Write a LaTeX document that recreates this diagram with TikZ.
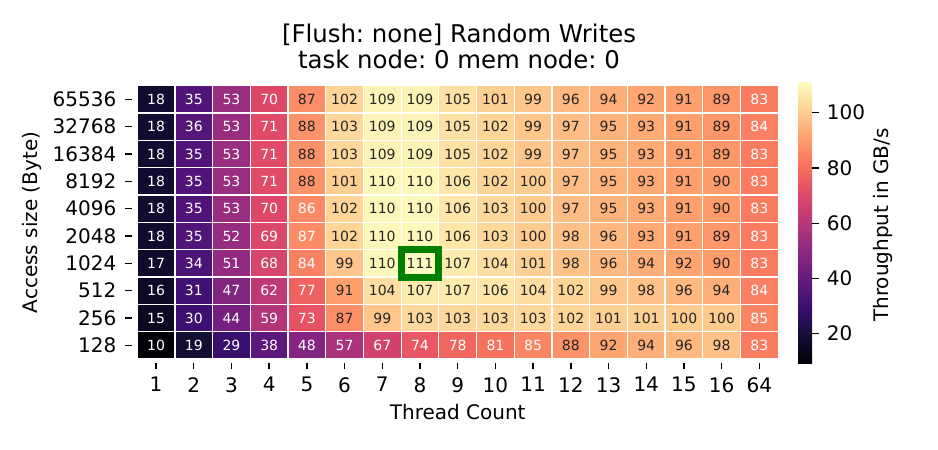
\documentclass[tikz,border=0pt]{standalone}
\usepackage{fontspec}
\setmainfont{DejaVu Sans}
\frenchspacing
\definecolor{m0}{HTML}{000004}
\definecolor{m1}{HTML}{140E36}
\definecolor{m2}{HTML}{3B0F70}
\definecolor{m3}{HTML}{641A80}
\definecolor{m4}{HTML}{8C2981}
\definecolor{m5}{HTML}{B73779}
\definecolor{m6}{HTML}{DE4968}
\definecolor{m7}{HTML}{F7705C}
\definecolor{m8}{HTML}{FE9F6D}
\definecolor{m9}{HTML}{FECF92}
\definecolor{m10}{HTML}{FCFDBF}
\definecolor{annotdark}{gray}{0.15}
\definecolor{boxgreen}{HTML}{008000}
\pgfdeclareverticalshading{magmash}{100bp}{color(0bp)=(m0); color(25bp)=(m0); color(30bp)=(m1); color(35bp)=(m2); color(40bp)=(m3); color(45bp)=(m4); color(50bp)=(m5); color(55bp)=(m6); color(60bp)=(m7); color(65bp)=(m8); color(70bp)=(m9); color(75bp)=(m10); color(100bp)=(m10)}
\def\magR{{0,20,59,100,140,183,222,247,254,254,252}}
\def\magG{{0,14,15,26,41,55,73,112,159,207,253}}
\def\magB{{4,54,112,128,129,121,104,92,109,146,191}}
\tikzset{
  ticklab/.style={inner sep=0pt, font=\fontsize{20}{24}\selectfont},
  titlelab/.style={inner sep=0pt, font=\fontsize{24.4}{28}\selectfont},
  cellnum/.style={inner sep=0pt, font=\fontsize{14}{16}\selectfont},
  tickmark/.style={line width=1.4pt, black},
}
\begin{document}
\begin{tikzpicture}[x=1pt,y=-1pt]
\fill[white] (0,0) rectangle (938,450);
\useasboundingbox (0,0) rectangle (938,450);
% heatmap cells
\foreach \row [count=\r from 0] in {
 {18,35,53,70,87,102,109,109,105,101,99,96,94,92,91,89,83},
 {18,36,53,71,88,103,109,109,105,102,99,97,95,93,91,89,84},
 {18,35,53,71,88,103,109,109,105,102,99,97,95,93,91,89,83},
 {18,35,53,71,88,101,110,110,106,102,100,97,95,93,91,90,83},
 {18,35,53,70,86,102,110,110,106,103,100,97,95,93,91,90,83},
 {18,35,52,69,86.6,102,110,110,106,103,100,98,96,93,91,89,83},
 {17,34,51,68,84,99,110,111,107,104,101,98,96,94,92,90,83},
 {16,31,47,62,77,91,104,107,107,106,104,102,99,98,96,94,84},
 {15,30,44,59,73,87,99,103,103,103,103,102,101,101,100,100,85},
 {10,19,29,38,48,57,67,74,78,81,85,88,92,94,96,98,83}} {
  \foreach \v [count=\c from 0] in \row {
    \pgfmathsetmacro\s{max(0,min(9.9999,(\v-9.15)/10.195))}
    \pgfmathtruncatemacro\i{floor(\s)}
    \pgfmathtruncatemacro\j{\i+1}
    \pgfmathsetmacro\f{\s-\i}
    \pgfmathtruncatemacro\R{round(\magR[\i]*(1-\f)+\magR[\j]*\f)}
    \pgfmathtruncatemacro\G{round(\magG[\i]*(1-\f)+\magG[\j]*\f)}
    \pgfmathtruncatemacro\B{round(\magB[\i]*(1-\f)+\magB[\j]*\f)}
    \definecolor{cellc}{RGB}{\R,\G,\B}
    \pgfmathsetmacro\xa{137.2+\c*37.706}
    \pgfmathsetmacro\ya{85.7+\r*27.33}
    \pgfmathtruncatemacro\t{round(\v)}
    \ifdim\v pt<86.8pt \def\tc{white}\else\def\tc{annotdark}\fi
    \filldraw[fill=cellc, draw=white, line width=1.2pt] (\xa,\ya) rectangle ++(37.706,27.33);
    \node[cellnum, text=\tc] (c\r-\c) at (\xa+18.853,\ya+13.665) {\t};
  }
}
% highlight
\draw[boxgreen, line width=7pt] (137.2+7*37.706,85.7+6*27.33) rectangle ++(37.706,27.33);
% y ticks
\foreach \lab [count=\r from 0] in {65536,32768,16384,8192,4096,2048,1024,512,256,128} {
  \pgfmathsetmacro\yy{85.7+27.33*(\r+0.5)}
  \draw[tickmark] (125,\yy) -- (132,\yy);
  \node[ticklab, anchor=east] (yl\r) at (116.5,\yy) {\lab};
}
% x ticks
\foreach \lab [count=\c from 0] in {1,2,3,4,5,6,7,8,9,10,11,12,13,14,15,16,64} {
  \pgfmathsetmacro\xx{137.2+37.706*(\c+0.5)}
  \draw[tickmark] (\xx,362.5) -- (\xx,369);
  \node[ticklab, anchor=north] (xl\c) at (\xx,377.2) {\lab};
}
% axis labels
\node[ticklab, anchor=base] (xlabel) at (457.7,419.8) {Thread Count};
\node[ticklab, anchor=base, rotate=90] (ylabel) at (37.8,222.5) {Access size (Byte)};
% title
\node[titlelab, anchor=base] (t1) at (459,42.5) {[Flush: none] Random Writes};
\node[titlelab, anchor=base] (t2) at (459,68.8) {task node: 0 mem node: 0};
% colorbar
\shade[shading=magmash] (798,82) rectangle (812,363.7);
\foreach \v in {20,40,60,80,100} {
  \pgfmathsetmacro\yy{333.7-(\v-20)*2.7625}
  \draw[tickmark] (812,\yy) -- (819,\yy);
  \node[ticklab, anchor=west] (cb\v) at (826.7,\yy) {\v};
}
\node[ticklab, anchor=base, rotate=90] (cblabel) at (888.8,225) {Throughput in GB/s};
\end{tikzpicture}
\end{document}
